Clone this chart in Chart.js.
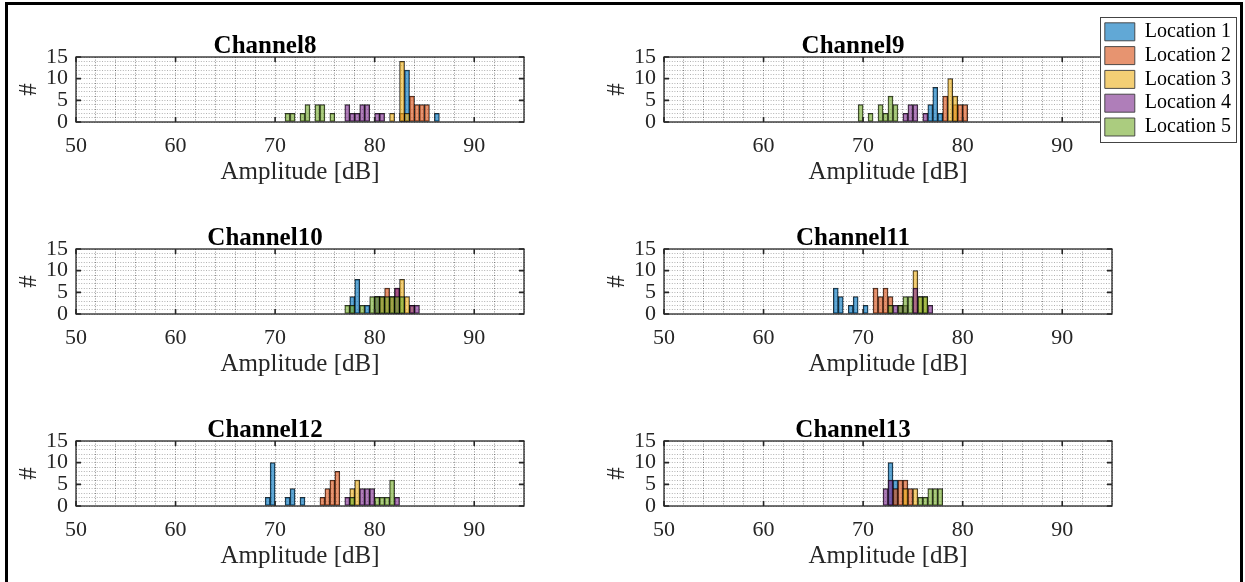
<!DOCTYPE html>
<html>
<head>
<meta charset="utf-8">
<script src="https://cdn.jsdelivr.net/npm/chart.js@4.4.1/dist/chart.umd.min.js"></script>
<style>
  body { margin: 0; background: #fff; width: 1245px; height: 582px; overflow: hidden; position: relative; }
  .frame { position: absolute; left: 5px; top: 2px; width: 1238px; height: 600px; border: 3px solid #000; box-sizing: border-box; }
  canvas { position: absolute; }
  #legendBox { position: absolute; left: 1100px; top: 17px; width: 135px; height: 124px; border: 1px solid #444; background: #fff; overflow: hidden; }
  #legend { left: 0; top: 0; }
</style>
</head>
<body>
<div class="frame"></div>
<canvas id="ch8"></canvas>
<canvas id="ch9"></canvas>
<canvas id="ch10"></canvas>
<canvas id="ch11"></canvas>
<canvas id="ch12"></canvas>
<canvas id="ch13"></canvas>
<div id="legendBox"><canvas id="legend"></canvas></div>
<script>
// histogram bins as [left edge in dB, count], one list per location
const BIN_WIDTH = 0.5;
const locations = ["Location 1", "Location 2", "Location 3", "Location 4", "Location 5"];
const fills = [
  "rgba(0,114,189,0.62)",
  "rgba(217,83,25,0.62)",
  "rgba(237,177,32,0.62)",
  "rgba(126,47,142,0.62)",
  "rgba(119,172,48,0.62)"
];

const ch8 = [
  [[83, 12], [86, 2]],
  [[82.5, 2], [83.5, 6], [84, 4], [84.5, 4], [85, 4]],
  [[81.5, 2], [82.5, 14], [83, 2]],
  [[77, 4], [77.5, 2], [78, 2], [78.5, 4], [79, 4], [80, 2], [80.5, 2]],
  [[71, 2], [71.5, 2], [72.5, 2], [73, 4], [74, 4], [74.5, 4], [75.5, 2]]
];
const ch9 = [
  [[76.5, 4], [77, 8], [77.5, 2]],
  [[78, 6], [79, 4], [79.5, 4], [80, 4]],
  [[78.5, 10], [79, 6]],
  [[74, 2], [74.5, 4], [75, 4], [76, 2]],
  [[69.5, 4], [70.5, 2], [71.5, 4], [72, 2], [72.5, 6], [73, 4]]
];
const ch10 = [
  [[77.5, 4], [78, 8], [79, 2], [80, 4]],
  [[80.5, 4], [81, 6], [81.5, 4], [82, 6]],
  [[82.5, 8], [83, 4], [83.5, 2]],
  [[80, 4], [82, 6], [83.5, 2], [84, 2]],
  [[77, 2], [77.5, 2], [78.5, 2], [79.5, 4], [80, 4], [80.5, 4], [81, 4], [81.5, 4], [82, 4], [82.5, 4]]
];
const ch11 = [
  [[67, 6], [67.5, 4], [68.5, 2], [69, 4], [70, 2]],
  [[71, 6], [71.5, 4], [72, 6], [72.5, 4]],
  [[75, 10], [75.5, 4], [76, 4]],
  [[73, 2], [73.5, 2], [74, 2], [75, 6], [76.5, 2]],
  [[72.5, 2], [73.5, 2], [74, 4], [74.5, 4], [75.5, 4], [76, 4]]
];
const ch12 = [
  [[69, 2], [69.5, 10], [71, 2], [71.5, 4], [72.5, 2]],
  [[74.5, 2], [75, 4], [75.5, 6], [76, 8]],
  [[77.5, 4], [78, 6]],
  [[77, 2], [78.5, 4], [79, 4], [79.5, 4], [82, 2]],
  [[77.5, 2], [80, 2], [80.5, 2], [81, 2], [81.5, 6]]
];
const ch13 = [
  [[72.5, 10], [73, 6]],
  [[73, 4], [73.5, 6], [74, 6], [74.5, 4]],
  [[74, 4], [75, 4]],
  [[72, 4], [72.5, 6]],
  [[75.5, 2], [76, 2], [76.5, 4], [77, 4], [77.5, 4]]
];

const xMin = 50, xMax = 95;
const yMin = 0, yMax = 15;
const xMajor = [50, 60, 70, 80, 90];
const yMajor = [0, 5, 10, 15];

const serif = "'Liberation Serif', 'Times New Roman', serif";
const axisInk = "#262626";

// plot-area size and the margins around it inside each canvas
const PLOT_W = 448, PLOT_H = 65;
const PAD_L = 70, PAD_R = 70, PAD_T = 29, PAD_B = 66;

// MATLAB-like box with inward tick marks
const axesBox = {
  id: "axesBox",
  afterDatasetsDraw(chart) {
    const { ctx, chartArea: a, scales: { x, y } } = chart;
    ctx.save();
    ctx.strokeStyle = axisInk;
    ctx.lineWidth = 1.3;
    ctx.strokeRect(a.left, a.top, a.right - a.left, a.bottom - a.top);
    ctx.lineWidth = 1.6;
    ctx.beginPath();
    xMajor.forEach(v => {
      const px = x.getPixelForValue(v);
      ctx.moveTo(px, a.bottom); ctx.lineTo(px, a.bottom - 5);
      ctx.moveTo(px, a.top); ctx.lineTo(px, a.top + 5);
    });
    yMajor.forEach(v => {
      const py = y.getPixelForValue(v);
      ctx.moveTo(a.left, py); ctx.lineTo(a.left + 5, py);
      ctx.moveTo(a.right, py); ctx.lineTo(a.right - 5, py);
    });
    ctx.stroke();
    ctx.restore();
  }
};

function makePanel(id, title, series, plotLeft, plotTop, hideFirstTick) {
  const canvas = document.getElementById(id);
  const w = PAD_L + PLOT_W + PAD_R, h = PAD_T + PLOT_H + PAD_B;
  canvas.style.left = (plotLeft - PAD_L) + "px";
  canvas.style.top = (plotTop - PAD_T) + "px";
  canvas.width = w;
  canvas.height = h;

  const datasets = series.map((bins, i) => ({
    label: locations[i],
    data: bins.map(([edge, n]) => ({ x: edge + BIN_WIDTH / 2, y: n })),
    backgroundColor: fills[i],
    borderColor: "rgba(0,0,0,0.85)",
    borderWidth: 0.8,
    borderSkipped: false,
    grouped: false,
    barPercentage: 1,
    categoryPercentage: 1,
    order: series.length - i
  }));

  return new Chart(canvas, {
    type: "bar",
    data: { datasets },
    plugins: [axesBox],
    options: {
      responsive: false,
      animation: false,
      events: [],
      layout: { padding: { left: 0, right: PAD_R, top: 0, bottom: 0 } },
      plugins: {
        legend: { display: false },
        tooltip: { enabled: false },
        title: {
          display: true,
          text: title,
          color: "#000",
          font: { family: serif, size: 25, weight: "bold", lineHeight: 1 },
          padding: { top: 6, bottom: -2 }
        }
      },
      scales: {
        x: {
          type: "linear",
          min: xMin,
          max: xMax,
          offset: false,
          border: { display: false, dash: [1, 1.6] },
          grid: { offset: false, drawTicks: false, color: "rgba(0,0,0,0.45)", lineWidth: 1 },
          ticks: {
            stepSize: 2,
            autoSkip: false,
            maxRotation: 0,
            padding: 11,
            color: axisInk,
            font: { family: serif, size: 22 },
            callback: v => (v % 10 === 0 && !(hideFirstTick && v === xMin)) ? v : ""
          },
          title: {
            display: true,
            text: "Amplitude [dB]",
            color: axisInk,
            font: { family: serif, size: 25 },
            padding: { top: 0, bottom: 1 }
          },
          afterFit: s => { s.height = PAD_B; }
        },
        y: {
          min: yMin,
          max: yMax,
          border: { display: false, dash: [1, 1.6] },
          grid: { drawTicks: false, color: "rgba(0,0,0,0.3)", lineWidth: 1 },
          ticks: {
            stepSize: 1,
            autoSkip: false,
            padding: 8,
            color: axisInk,
            font: { family: serif, size: 22 },
            callback: v => v % 5 === 0 ? v : ""
          },
          title: {
            display: true,
            text: "#",
            color: axisInk,
            font: { family: serif, size: 25 },
            padding: { top: 8, bottom: 0 }
          },
          afterFit: s => { s.width = PAD_L; }
        }
      }
    }
  });
}

const leftCol = 76, rightCol = 664;
const rows = [57, 249, 441];
makePanel("ch8", "Channel8", ch8, leftCol, rows[0], false);
makePanel("ch9", "Channel9", ch9, rightCol, rows[0], true);
makePanel("ch10", "Channel10", ch10, leftCol, rows[1], false);
makePanel("ch11", "Channel11", ch11, rightCol, rows[1], false);
makePanel("ch12", "Channel12", ch12, leftCol, rows[2], false);
makePanel("ch13", "Channel13", ch13, rightCol, rows[2], false);

// legend: the canvas is wider than its box so the vertical legend gets full width
const legendCanvas = document.getElementById("legend");
legendCanvas.width = 280;
legendCanvas.height = 130;
new Chart(legendCanvas, {
  type: "bar",
  data: {
    datasets: locations.map((name, i) => ({
      label: name,
      data: [],
      backgroundColor: fills[i],
      borderColor: "rgba(60,60,60,0.9)",
      borderWidth: 1
    }))
  },
  options: {
    responsive: false,
    animation: false,
    events: [],
    layout: { padding: 0 },
    scales: { x: { display: false }, y: { display: false } },
    plugins: {
      tooltip: { enabled: false },
      legend: {
        display: true,
        position: "left",
        align: "start",
        labels: {
          boxWidth: 30,
          boxHeight: 18,
          padding: 3.8,
          color: "#000",
          font: { family: serif, size: 20 }
        }
      }
    }
  }
});
</script>
</body>
</html>
